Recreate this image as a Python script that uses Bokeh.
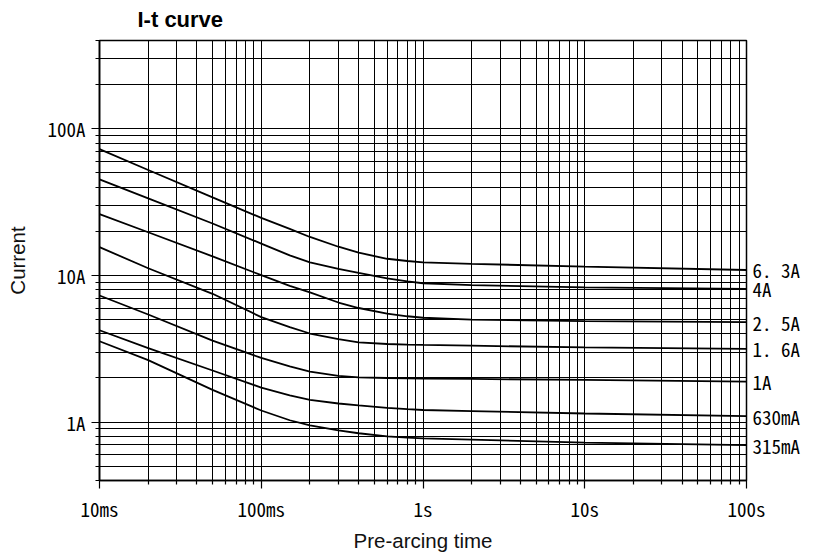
from bokeh.plotting import figure
from bokeh.models import FixedTicker, CustomJSTickFormatter, LogAxis
from bokeh.embed import file_html
from bokeh.resources import INLINE

# ---------------- data ----------------
time_s = [0.01, 0.02, 0.05, 0.1, 0.15, 0.2, 0.3, 0.4, 0.6, 0.8, 1, 2, 10, 100]

curve_labels = ["6. 3A", "4A", "2. 5A", "1. 6A", "1A", "630mA", "315mA"]
i_63a = [72.6, 52.4, 34.1, 24.7, 20.8, 18.3, 15.7, 14.3, 13.0, 12.55, 12.3, 12.0, 11.5, 10.9]
i_4a = [45.2, 33.5, 22.6, 16.5, 13.7, 12.3, 11.1, 10.4, 9.55, 9.1, 8.85, 8.6, 8.3, 8.09]
i_25a = [26.2, 19.7, 13.5, 10.05, 8.5, 7.67, 6.54, 6.0, 5.5, 5.27, 5.15, 5.0, 4.89, 4.81]
i_16a = [15.6, 11.2, 7.5, 5.2, 4.45, 4.02, 3.68, 3.5, 3.41, 3.38, 3.36, 3.32, 3.23, 3.16]
i_1a = [7.3, 5.42, 3.6, 2.74, 2.4, 2.21, 2.07, 2.02, 2.0, 1.99, 1.98, 1.97, 1.94, 1.89]
i_630ma = [4.23, 3.2, 2.25, 1.72, 1.52, 1.42, 1.34, 1.30, 1.25, 1.225, 1.21, 1.19, 1.145, 1.10]
i_315ma = [3.56, 2.65, 1.66, 1.2, 1.03, 0.95, 0.88, 0.84, 0.80, 0.785, 0.775, 0.76, 0.726, 0.696]
series = [i_63a, i_4a, i_25a, i_16a, i_1a, i_630ma, i_315ma]

x_major_ticks = [0.01, 0.1, 1, 10, 100]
x_tick_labels = ["10ms", "100ms", "1s", "10s", "100s"]
x_minor_ticks = [0.02, 0.03, 0.04, 0.05, 0.06, 0.07, 0.08, 0.09,
                 0.2, 0.3, 0.4, 0.5, 0.6, 0.7, 0.8, 0.9,
                 2, 3, 4, 5, 6, 7, 8, 9,
                 20, 30, 40, 50, 60, 70, 80, 90]
y_major_ticks = [1, 10, 100]
y_tick_labels = ["1A", "10A", "100A"]
y_minor_ticks = [0.4, 0.5, 0.6, 0.7, 0.8, 0.9,
                 2, 3, 4, 5, 6, 7, 8, 9,
                 20, 30, 40, 50, 60, 70, 80, 90,
                 200, 300, 400]
x_limits = (0.01, 100)
y_limits = (0.4, 400)

# ---------------- style ----------------
MONO = "'Noto Sans Mono CJK JP', 'Noto Sans CJK JP', sans-serif"
SANS = "'Liberation Sans', Arial, sans-serif"

p = figure(width=817, height=554, x_axis_type="log", y_axis_type="log",
           x_range=x_limits, y_range=y_limits,
           output_backend="svg", toolbar_location=None,
           min_border_left=99, min_border_right=71,
           min_border_top=40, min_border_bottom=73)
p.background_fill_color = "white"
p.border_fill_color = "white"
p.outline_line_color = "black"
p.outline_line_width = 1.5
p.outline_line_alpha = 1.0

p.title.text = "I-t curve"
p.title.align = "left"
p.title.vertical_align = "top"
p.title.offset = 38
p.title.text_font = SANS
p.title.text_font_size = "22px"
p.title.text_font_style = "bold"
p.title.text_color = "black"
p.title.standoff = 13

fmt_code = """
for (let i = 0; i < vals.length; i++) {
  if (Math.abs(Math.log10(vals[i]) - Math.log10(tick)) < 1e-6) return labels[i];
}
return '';
"""
p.xaxis.ticker = FixedTicker(ticks=x_major_ticks, minor_ticks=x_minor_ticks)
p.yaxis.ticker = FixedTicker(ticks=y_major_ticks, minor_ticks=y_minor_ticks)
p.xaxis.formatter = CustomJSTickFormatter(args=dict(vals=x_major_ticks, labels=x_tick_labels), code=fmt_code)
p.yaxis.formatter = CustomJSTickFormatter(args=dict(vals=y_major_ticks, labels=y_tick_labels), code=fmt_code)

for ax in (p.xaxis[0], p.yaxis[0]):
    ax.major_tick_out = 8
    ax.major_tick_in = 0
    ax.minor_tick_out = 4
    ax.minor_tick_in = 0
    ax.axis_line_color = "black"
    ax.axis_line_width = 1.6
    ax.major_tick_line_color = "black"
    ax.minor_tick_line_color = "black"
    ax.major_tick_line_width = 1.2
    ax.minor_tick_line_width = 1.2
    ax.major_label_text_font = MONO
    ax.major_label_text_font_size = "19px"
    ax.major_label_text_color = "black"
    ax.axis_label_text_font = SANS
    ax.axis_label_text_font_size = "20.5px"
    ax.axis_label_text_font_style = "normal"
    ax.axis_label_text_color = "#111111"

p.xaxis.axis_label = "Pre-arcing time"
p.xaxis.major_label_standoff = 6
p.xaxis.axis_label_standoff = 4
p.yaxis.axis_label = "Current"
p.yaxis.major_label_standoff = 6
p.yaxis.axis_label_standoff = 15

for g in (p.xgrid[0], p.ygrid[0]):
    g.grid_line_color = "black"
    g.grid_line_alpha = 1.0
    g.grid_line_width = 1
    g.minor_grid_line_color = "black"
    g.minor_grid_line_alpha = 1.0
    g.minor_grid_line_width = 1

for vals in series:
    p.line(time_s, vals, line_color="black", line_width=1.8)

# curve names at the right end, as a label-only right axis
end_values = [vals[-1] for vals in series]
right = LogAxis(ticker=FixedTicker(ticks=end_values, minor_ticks=[]),
                formatter=CustomJSTickFormatter(args=dict(vals=end_values, labels=curve_labels), code=fmt_code),
                axis_line_color=None, major_tick_line_color=None, minor_tick_line_color=None,
                major_tick_out=0, major_tick_in=0, minor_tick_out=0, minor_tick_in=0,
                major_label_standoff=6, major_label_text_font=MONO,
                major_label_text_font_size="19px", major_label_text_color="black")
p.add_layout(right, "right")

open("out.html", "w").write(file_html(p, INLINE))
